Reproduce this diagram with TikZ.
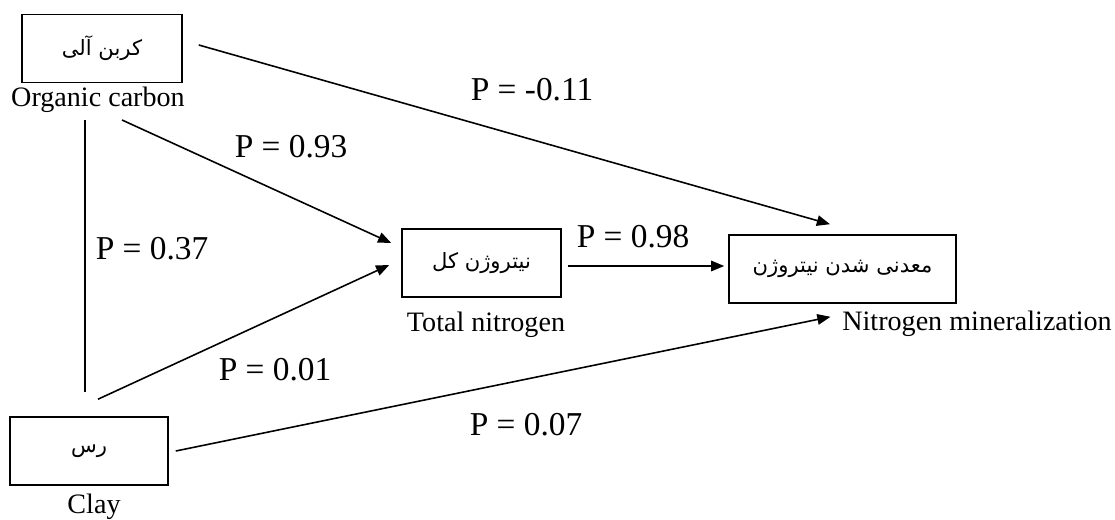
\documentclass[tikz,border=0pt]{standalone}
\usepackage{fontspec}
\setmainfont{Liberation Serif}
\newfontfamily\farsi[Script=Arabic]{DejaVu Sans}
\TeXXeTstate=1
\usepackage{tikz}
\usetikzlibrary{arrows.meta, calc}

\begin{document}
\begin{tikzpicture}[
    x=0.02cm, y=-0.02cm,
    kotak/.style={draw, line width=0.9pt, minimum height=1.36cm, inner sep=0pt,
                  font=\farsi\fontsize{12}{14}\selectfont},
    keterangan/.style={inner sep=0pt, font=\fontsize{16}{18}\selectfont},
    nilai/.style={inner sep=0pt, font=\fontsize{19}{22}\selectfont},
    panah/.style={-{Triangle[length=7.5pt, width=6pt]}, line width=0.9pt},
    garis/.style={line width=0.9pt}
  ]
    \useasboundingbox (0,0) rectangle (1115,520);
    % kotak variabel
    \node[kotak, minimum width=3.2cm] (karbon) at (102,48.5) {\beginR کربن آلی\endR};
    \node[kotak, minimum width=3.18cm] (nitrogen) at (481.5,263) {\beginR نیتروژن کل\endR};
    \node[kotak, minimum width=4.54cm] (mineral) at (842.5,269) {\beginR معدنی شدن نیتروژن\endR};
    \node[kotak, minimum width=3.16cm] (liat) at (89,451) {\beginR رس\endR};
    % keterangan bahasa inggris
    \node[keterangan] (karbonket) at (98,100) {Organic carbon};
    \node[keterangan] (nitrogenket) at (486,325) {Total nitrogen};
    \node[keterangan] (mineralket) at (977,324) {Nitrogen mineralization};
    \node[keterangan] (liatket) at (94,507) {Clay};
    % jalur
    \draw[panah] ($(karbon.east)+(16,-3.5)$) -- ($(mineral.north)+(-12.5,-10)$);
    \draw[panah] ($(karbonket.center)+(24,20)$) -- ($(nitrogen.west)+(-10,-20)$);
    \draw[garis] ($(liat.north)+(-4,-24)$) -- ($(liat.north |- karbonket.center)+(-4,20)$);
    \draw[panah] ($(liat.north)+(9,-17)$) -- ($(nitrogen.west)+(-12,2)$);
    \draw[panah] ($(nitrogen.east)+(6,3)$) -- ($(mineral.west)+(-4,-3)$);
    \draw[panah] ($(liat.east)+(7,0)$) -- ($(mineral.south)+(-12,13)$);
    % nilai koefisien
    \node[nilai] (p1) at (532,90) {P = -0.11};
    \node[nilai] (p2) at (291,147) {P = 0.93};
    \node[nilai] (p3) at (152,249) {P = 0.37};
    \node[nilai] (p4) at (275,370) {P = 0.01};
    \node[nilai] (p5) at (633,237) {P = 0.98};
    \node[nilai] (p6) at (526,425) {P = 0.07};
  \end{tikzpicture}
\end{document}
